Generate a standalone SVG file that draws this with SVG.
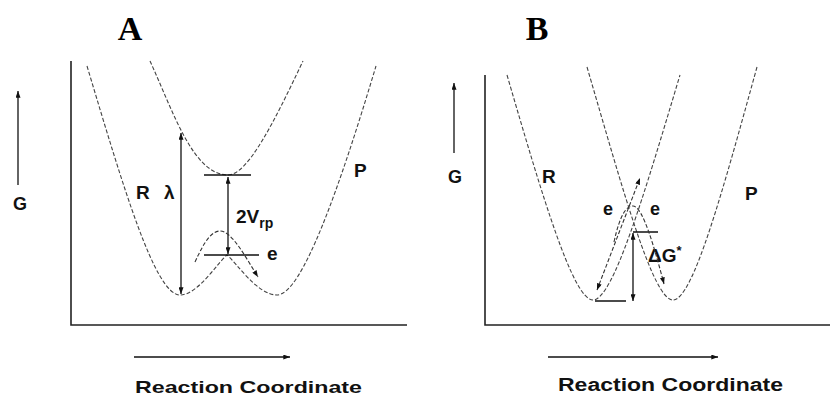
<svg xmlns="http://www.w3.org/2000/svg" width="830" height="398" viewBox="0 0 830 398">
<style>
.bg{fill:#fff}
.axis{stroke:#222;stroke-width:1.6;fill:none}
.curve{stroke:#444;stroke-width:1.1;fill:none;stroke-dasharray:4 2}
.arr{stroke:#111;stroke-width:1.3;fill:none}
.darr{stroke:#333;stroke-width:1.1;fill:none;stroke-dasharray:4 2}
.lbl{font-family:"Liberation Sans",Arial,sans-serif;font-weight:bold;fill:#111}
.ttl{font-family:"Liberation Serif","Times New Roman",serif;font-weight:bold;font-size:34px;fill:#000;text-anchor:middle}
</style>
<defs>
<marker id="ah" viewBox="0 0 8 6" refX="8" refY="3" markerWidth="7" markerHeight="5" markerUnits="userSpaceOnUse" orient="auto-start-reverse">
<path d="M0,0 L8,3 L0,6 z" fill="#111"/>
</marker>
</defs>
<rect class="bg" width="830" height="398"/>

<g id="panelA">
  <text id="titleA" class="ttl" x="130" y="40">A</text>
  <g id="axesA">
    <path class="axis" d="M71 61 V325 H407"/>
  </g>
  <g id="curveA-lower">
    <path class="curve" d="M87 66 C123 186 155 295 180 295 C198 295 218 262 227 255 C236 262 257 295 277 295 C302 295 340 186 376 66"/>
  </g>
  <g id="curveA-upper">
    <path class="curve" d="M150 61 C173 111 193 175 228 175 C248 175 275 120 303 61"/>
  </g>
  <g id="levelsA">
    <path class="arr" d="M204 175 H251 M204 255 H259"/>
  </g>
  <g id="labelsA">
    <text class="lbl" x="20" y="210" font-size="18" text-anchor="middle">G</text>
    <text class="lbl" x="136" y="199" font-size="19">R</text>
    <text class="lbl" x="164" y="199" font-size="19">λ</text>
    <text class="lbl" x="354" y="177" font-size="19">P</text>
    <text class="lbl" x="236" y="223" font-size="19">2V<tspan font-size="14" dy="5">rp</tspan></text>
    <text class="lbl" x="267" y="260" font-size="19">e</text>
    <text class="lbl" x="135" y="393" font-size="17" textLength="227" lengthAdjust="spacingAndGlyphs">Reaction Coordinate</text>
  </g>
</g>

<g id="panelB">
  <text id="titleB" class="ttl" x="537" y="40">B</text>
  <g id="axesB">
    <path class="axis" d="M485 75 V325 H830"/>
  </g>
  <g id="curveB-R">
    <path class="curve" d="M507 75 C542 195 573 300 593 300 C613 300 644 195 680 75"/>
  </g>
  <g id="curveB-P">
    <path class="curve" d="M587 67 C623 190 653 300 673 300 C693 300 723 190 757 67"/>
  </g>
  <g id="levelsB">
    <path class="arr" d="M633 232 H658 M595 301 H626"/>
  </g>
  <g id="labelsB">
    <text class="lbl" x="455" y="183" font-size="18" text-anchor="middle">G</text>
    <text class="lbl" x="542" y="183" font-size="19">R</text>
    <text class="lbl" x="745" y="200" font-size="19">P</text>
    <text class="lbl" x="603" y="215" font-size="18">e</text>
    <text class="lbl" x="650" y="215" font-size="18">e</text>
    <text class="lbl" x="648" y="262" font-size="19">ΔG<tspan font-size="13" dy="-7">*</tspan></text>
    <text class="lbl" x="558" y="391" font-size="18" textLength="225" lengthAdjust="spacingAndGlyphs">Reaction Coordinate</text>
  </g>
</g>

<g id="connectors">
  <path class="arr" d="M18 185 V91" marker-end="url(#ah)"/>
  <path class="arr" d="M134 357 H290" marker-end="url(#ah)"/>
  <path class="arr" d="M181 133 V294" marker-start="url(#ah)" marker-end="url(#ah)"/>
  <path class="arr" d="M228 177 V254" marker-start="url(#ah)" marker-end="url(#ah)"/>
  <path class="darr" d="M195 262 C205 240 212 231 220 231 C232 231 246 258 258 277" marker-end="url(#ah)"/>
  <path class="arr" d="M454 153 V83" marker-end="url(#ah)"/>
  <path class="arr" d="M548 357 H718" marker-end="url(#ah)"/>
  <path class="arr" d="M633 233 V301" marker-start="url(#ah)" marker-end="url(#ah)"/>
  <path class="darr" d="M597 290 L640 178" marker-start="url(#ah)" marker-end="url(#ah)"/>
  <path class="darr" d="M614 242 C620 215 626 206 633 206 C643 206 655 250 664 284" marker-end="url(#ah)"/>
</g>
</svg>
